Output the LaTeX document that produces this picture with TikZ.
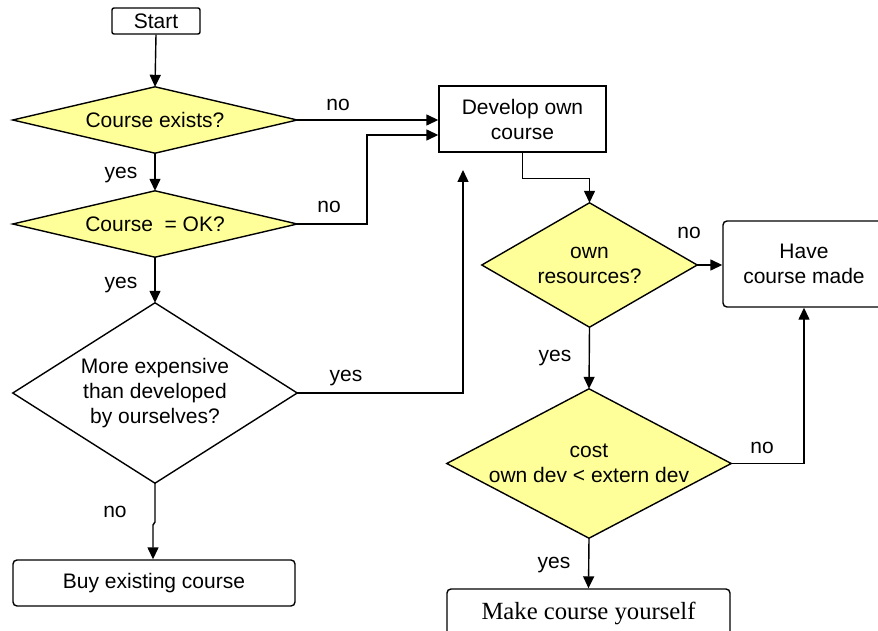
\documentclass[tikz,border=0pt]{standalone}
\usepackage{fontspec}
\setmainfont{Liberation Sans}
\newfontfamily\tms{Liberation Serif}
\usetikzlibrary{arrows.meta,backgrounds}
\definecolor{decyel}{HTML}{FFFF99}
\begin{document}
\begin{tikzpicture}[x=1pt,y=-1pt,
  every node/.style={font=\fontsize{21}{25}\selectfont},
  box/.style={draw,line width=1.4pt,inner sep=0pt,align=center},
  dec/.style={shape=rectangle,inner sep=0pt,align=center},
  arr/.style={line width=1.4pt,-{Triangle[length=12pt,width=11pt]}},
  ln/.style={line width=1.4pt},
  lbl/.style={inner sep=0pt}]
\useasboundingbox (0,0) rectangle (878,631);
\clip (0,0) rectangle (878,631);
% nodes
\node[box,rounded corners=2pt,minimum width=88pt,minimum height=26pt] (start) at (156,21) {Start};
\node[dec,minimum width=284pt,minimum height=66pt] (d1) at (155,120) {Course exists?};
\node[dec,minimum width=284pt,minimum height=66pt] (d2) at (155,224) {Course\ \ = OK?};
\node[dec,minimum width=284pt,minimum height=180pt] (d3) at (155,393) {More expensive\\than developed\\by ourselves?};
\node[box,rounded corners=4pt,minimum width=282pt,minimum height=46pt] (buy) at (154,583) {Buy existing course};
\node[box,minimum width=167pt,minimum height=66pt] (dev) at (522.5,119) {Develop own\\course};
\node[dec,minimum width=215pt,minimum height=124pt] (d4) at (589.5,265) {own\\resources?};
\node[box,rounded corners=4pt,minimum width=162pt,minimum height=86pt] (have) at (804,264) {Have\\course made};
\node[dec,minimum width=284pt,minimum height=149pt] (d5) at (589,463.5) {cost\\own dev < extern dev};
\node[box,rounded corners=4pt,minimum width=283pt,minimum height=48pt,font=\tms\fontsize{24.7}{28}\selectfont] (make) at (588.5,613) {Make course yourself};
% diamond outlines
\begin{scope}[on background layer]
  \foreach \n/\c in {d1/decyel,d2/decyel,d3/white,d4/decyel,d5/decyel}
    \draw[ln,fill=\c] (\n.north) -- (\n.east) -- (\n.south) -- (\n.west) -- cycle;
\end{scope}
% helper coordinates
\coordinate (j1) at (155,522);
\coordinate (j2) at (153,525);
\coordinate (k) at (367,135);
\coordinate (m) at (463,170);
% connectors
\draw[arr] (start.south) -- (d1.north);
\draw[arr] (d1.south) -- (d2.north);
\draw[arr] (d2.south) -- (d3.north);
\draw[arr] (d3.south) -- (j1) -- (j2) -- (j2 |- buy.north);
\draw[arr] (d1.east) -- (d1.east -| dev.west);
\draw[arr] (d2.east) -| (k) -- (k -| dev.west);
\draw[arr] (d3.east) -| (m);
\draw[arr] (dev.south) -- ++(0,26) -| (d4.north);
\draw[arr] (d4.east) -- (d4.east -| have.west);
\draw[arr] (d4.south) -- (d5.north);
\draw[arr] (d5.east) -| (have.south);
\draw[arr] (d5.south) -- (make.north);
% labels
\node[lbl] (l1) at (121,175) {yes};
\node[lbl] (l2) at (121,285) {yes};
\node[lbl] (l3) at (115,512) {no};
\node[lbl] (l4) at (338,105) {no};
\node[lbl] (l5) at (329,207) {no};
\node[lbl] (l6) at (346,378) {yes};
\node[lbl] (l7) at (689,233) {no};
\node[lbl] (l8) at (555,358) {yes};
\node[lbl] (l9) at (762,448) {no};
\node[lbl] (l10) at (554,565) {yes};
\end{tikzpicture}
\end{document}
